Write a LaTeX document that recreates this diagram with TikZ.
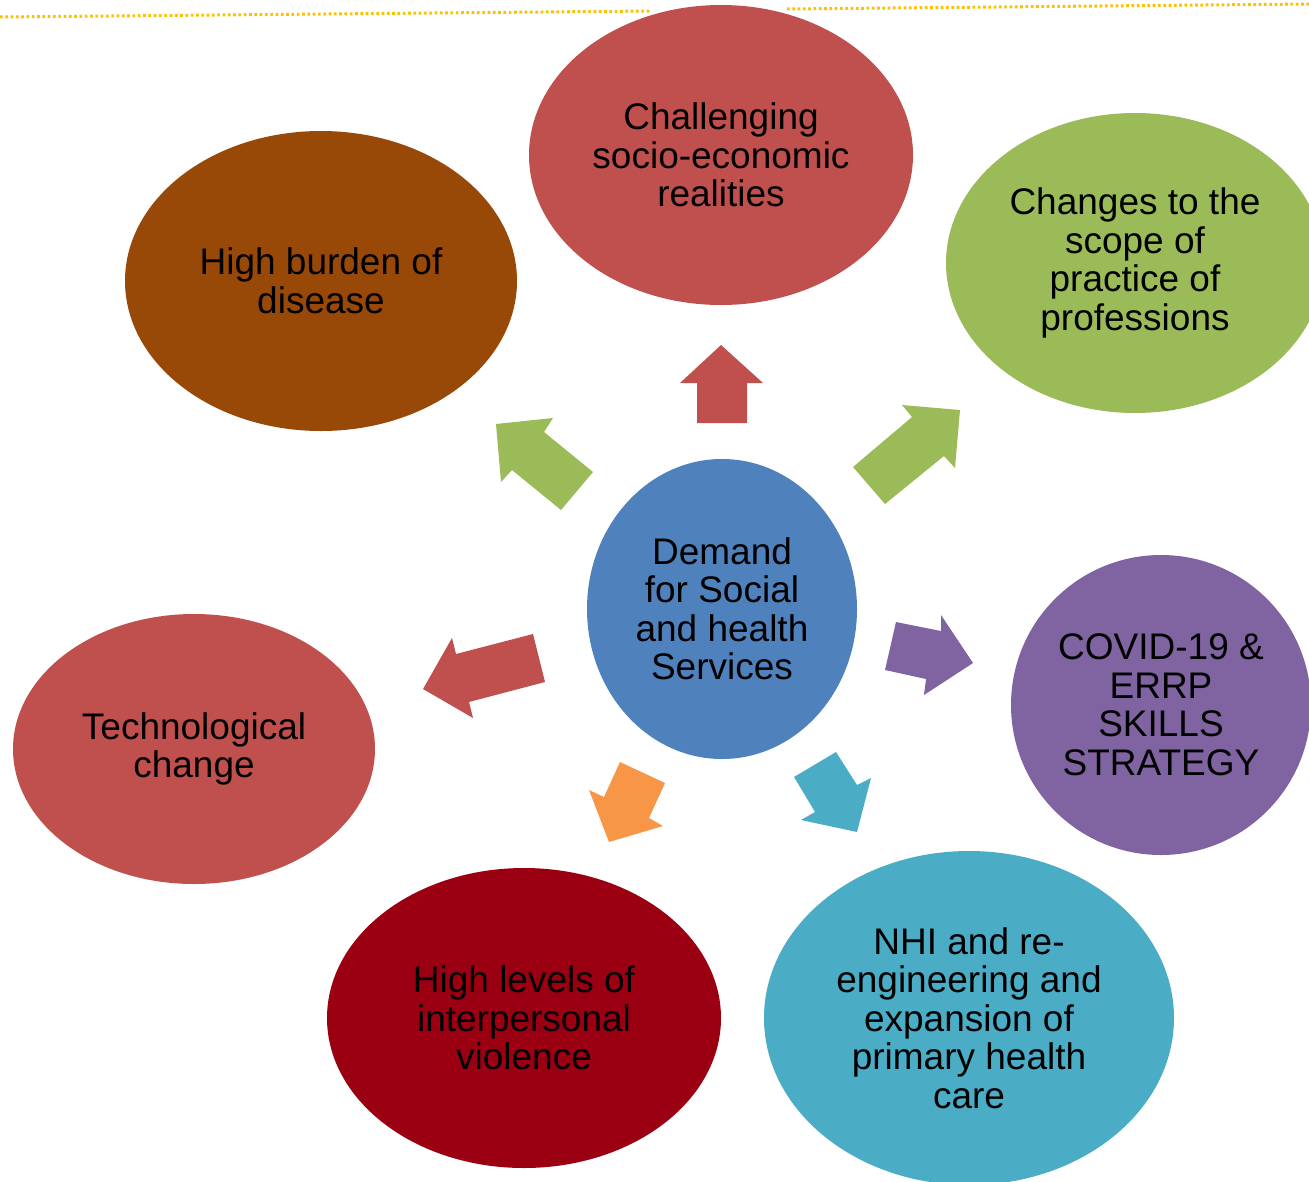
\documentclass[tikz,border=0pt]{standalone}
\usepackage{fontspec}
\setmainfont{Liberation Sans}
\usetikzlibrary{shapes.geometric}
\definecolor{cRed}{HTML}{C0504D}
\definecolor{cBrown}{HTML}{984807}
\definecolor{cGreen}{HTML}{9BBB59}
\definecolor{cBlue}{HTML}{4F81BD}
\definecolor{cPurple}{HTML}{8064A2}
\definecolor{cTeal}{HTML}{4BACC6}
\definecolor{cDark}{HTML}{9B0012}
\definecolor{cOrange}{HTML}{F79646}
\definecolor{cGold}{HTML}{FFC000}
\tikzset{
  bubble/.style={ellipse, inner sep=0pt, align=center, text=black,
    font=\fontsize{37}{38.5}\selectfont},
  blockarrow/.style={draw=none},
  topline/.style={cGold, line width=3pt, dash pattern=on 2.7pt off 2.6pt}
}
\begin{document}
\begin{tikzpicture}[x=1pt,y=-1pt]
\useasboundingbox (0,0) rectangle (1309,1181);
% top dotted line
\coordinate (l1) at (0,17);
\coordinate (l2) at (650,11);
\coordinate (l3) at (787,9);
\coordinate (l4) at (1309,4);
\draw[topline] (l1) -- (l2);
\draw[topline] (l3) -- (l4);
% ellipses
\node[bubble, fill=cRed, minimum width=384pt, minimum height=300pt] (soc) at (721,155) {Challenging\\socio-economic\\realities};
\node[bubble, fill=cBrown, minimum width=392pt, minimum height=300pt] (burden) at (321,281) {High burden of\\disease};
\node[bubble, fill=cGreen, minimum width=378pt, minimum height=300pt] (scope) at (1135,263) {Changes to the\\scope of\\practice of\\professions};
\node[bubble, fill=cBlue, minimum width=270pt, minimum height=300pt] (demand) at (722,609) {Demand\\for Social\\and health\\Services};
\node[bubble, fill=cPurple, minimum width=300pt, minimum height=300pt] (covid) at (1161,705) {COVID-19 \&\\ERRP\\SKILLS\\STRATEGY};
\node[bubble, fill=cRed, minimum width=362pt, minimum height=270pt] (tech) at (194,749) {Technological\\change};
\node[bubble, fill=cDark, minimum width=394pt, minimum height=300pt] (violence) at (524,1018) {High levels of\\interpersonal\\violence};
\node[bubble, fill=cTeal, minimum width=410pt, minimum height=334pt] (nhi) at (969,1018) {NHI and re-\\engineering and\\expansion of\\primary health\\care};
% block arrows
\fill[blockarrow, cRed] (721,345) -- (763,383) -- (747,383) -- (747,423) -- (697,423) -- (697,383) -- (680,383) -- cycle;
\fill[blockarrow, cGreen] (496,424) -- (553,418) -- (544,432) -- (593,472) -- (561,510) -- (512,470) -- (501,482) -- cycle;
\fill[blockarrow, cGreen] (960,410) -- (955,468) -- (944,456) -- (885,504) -- (853,467) -- (912,417) -- (902,405) -- cycle;
\fill[blockarrow, cRed] (423,689) -- (452,638) -- (456,654) -- (533,634) -- (545,682) -- (469,702) -- (473,718) -- cycle;
\fill[blockarrow, cPurple] (973,663) -- (924,695) -- (926,679) -- (885,670) -- (896,622) -- (941,631) -- (941,615) -- cycle;
\fill[blockarrow, cOrange] (609,842) -- (589,790) -- (604,797) -- (620,762) -- (665,783) -- (649,818) -- (663,826) -- cycle;
\fill[blockarrow, cTeal] (857,832) -- (801,820) -- (815,812) -- (794,777) -- (836,752) -- (857,785) -- (871,778) -- cycle;
\end{tikzpicture}
\end{document}
